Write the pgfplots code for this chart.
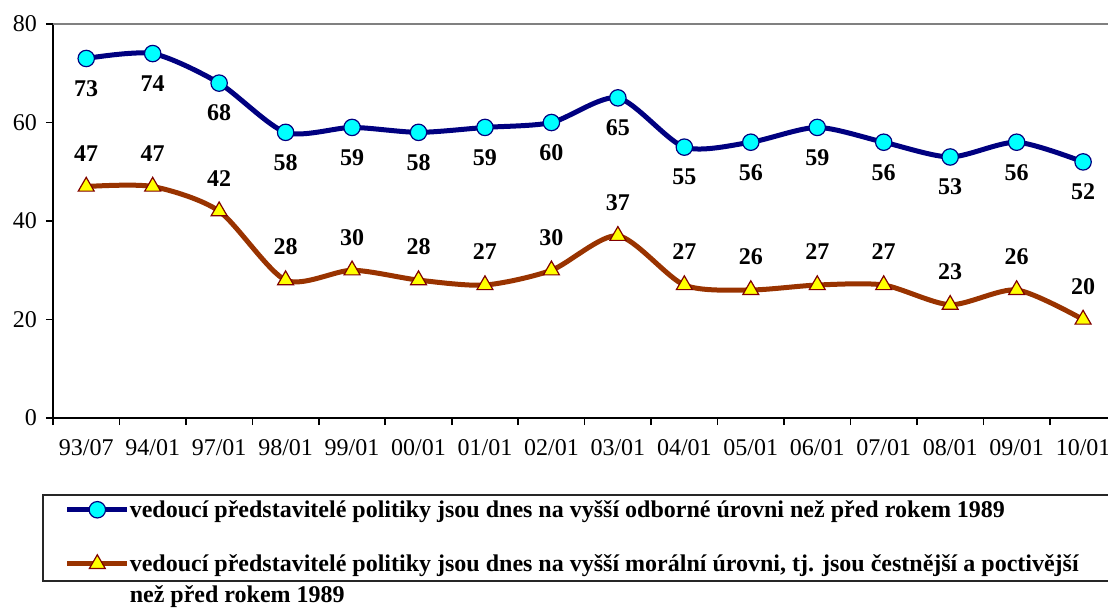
\documentclass[border=0pt]{standalone}
\usepackage{fontspec}
\setmainfont{Liberation Serif}
\usepackage{pgfplots}
\pgfplotsset{compat=1.18}
\definecolor{navyline}{RGB}{0,0,128}
\definecolor{cyanfill}{RGB}{0,255,255}
\definecolor{brownline}{RGB}{153,51,0}
\definecolor{trifill}{RGB}{255,255,0}
\definecolor{triedge}{RGB}{128,0,0}
\begin{document}
\begin{tikzpicture}
\begin{axis}[
  at={(26.5pt,97pt)}, anchor=south west,
  scale only axis, width=527.5pt, height=197pt,
  xmin=-0.5, xmax=15.375, ymin=0, ymax=80,
  axis lines=left,
  axis line style={-, black, line width=1pt},
  clip=false,
  tick align=outside,
  ytick={0,20,40,60,80},
  major tick length=3.5pt,
  tick style={black, line width=0.8pt},
  yticklabel style={font=\fontsize{12pt}{14pt}\selectfont, xshift=-1pt},
  /pgf/number format/assume math mode=true,
  xtick={0,...,15},
  xticklabels={93/07,94/01,97/01,98/01,99/01,00/01,01/01,02/01,03/01,04/01,05/01,06/01,07/01,08/01,09/01,10/01},
  major x tick style={draw=none},
  minor xtick={-0.5,0.5,...,14.5},
  minor tick length=3.5pt,
  minor x tick style={black, line width=0.8pt},
  xticklabel style={font=\fontsize{12pt}{14pt}\selectfont, yshift=-3.5pt},
  legend style={at={(-0.0104,-0.193)}, anchor=north west, draw=black!85, line width=0.8pt,
    inner xsep=11pt, inner ysep=3pt, row sep=17pt,
    nodes={inner sep=0pt, anchor=base west},
    font=\fontsize{12pt}{15.5pt}\selectfont\bfseries,
    /tikz/column sep=0pt},
  legend image code/.code={\draw[mark repeat=2,mark phase=2,yshift=4pt] plot coordinates {(0pt,0pt) (15pt,0pt) (30pt,0pt)};},
]
\draw[gray, line width=0.6pt] (axis cs:-0.5,80) -- (axis cs:15.375,80);
\addplot[navyline, line width=2.5pt, smooth, tension=0.45,
  mark=*, mark size=4.1pt, mark options={fill=cyanfill, draw=navyline, line width=0.6pt},
  nodes near coords={\pgfmathprintnumber[assume math mode=true]{\pgfplotspointmeta}},
  every node near coord/.style={font=\fontsize{12pt}{14pt}\selectfont\bfseries, text=black, anchor=center, yshift=-15pt}]
  coordinates {(0,73) (1,74) (2,68) (3,58) (4,59) (5,58) (6,59) (7,60) (8,65) (9,55) (10,56) (11,59) (12,56) (13,53) (14,56) (15,52)};
\addlegendentry{\parbox[t]{520pt}{vedoucí představitelé politiky jsou dnes na vyšší odborné úrovni než před rokem 1989}}
\addplot[brownline, line width=2.5pt, smooth, tension=0.45,
  mark=triangle*, mark size=4.6pt, mark options={fill=trifill, draw=triedge, line width=0.6pt},
  nodes near coords={\pgfmathprintnumber[assume math mode=true]{\pgfplotspointmeta}},
  every node near coord/.style={font=\fontsize{12pt}{14pt}\selectfont\bfseries, text=black, anchor=center, yshift=16.5pt}]
  coordinates {(0,47) (1,47) (2,42) (3,28) (4,30) (5,28) (6,27) (7,30) (8,37) (9,27) (10,26) (11,27) (12,27) (13,23) (14,26) (15,20)};
\addlegendentry{\parbox[t]{520pt}{vedoucí představitelé politiky jsou dnes na vyšší morální úrovni, tj. jsou čestnější a poctivější\newline než před rokem 1989}}
\end{axis}
\pgfresetboundingbox
\path[use as bounding box] (0,0) rectangle (554pt,306pt);
\end{tikzpicture}
\end{document}
